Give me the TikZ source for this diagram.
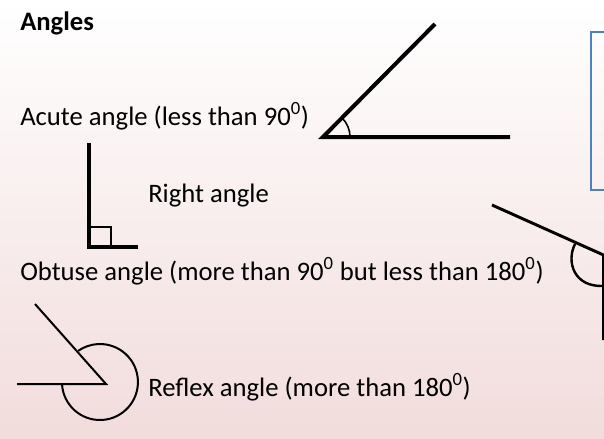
\documentclass[tikz,border=0pt]{standalone}
\usepackage{fontspec}
\setmainfont{Carlito}
\definecolor{pinkbg}{RGB}{242,220,220}
\definecolor{boxblue}{RGB}{79,129,189}
\tikzset{
  lbl/.style={anchor=base west, inner sep=0pt, font=\fontsize{20}{24}\selectfont},
  thickline/.style={line width=3pt, line join=miter},
  thinarc/.style={line width=1.2pt},
}
\begin{document}
\begin{tikzpicture}[x=0.75pt, y=-0.75pt]
\useasboundingbox (0,0) rectangle (604,439);
\shade[top color=white, bottom color=pinkbg] (0,0) rectangle (604,439);
\clip (0,0) rectangle (604,439);
% texts
\node[lbl, font=\fontsize{20}{24}\selectfont\bfseries] (title) at (20,31) {Angles};
\node[lbl] (acute) at (20,125) {Acute angle (less than 90\textsuperscript{0})};
\node[lbl] (right) at (148,202) {Right angle};
\node[lbl] (obtuse) at (20,280) {Obtuse angle (more than 90\textsuperscript{0} but less than 180\textsuperscript{0})};
\node[lbl] (reflex) at (148,396) {Reflex angle (more than 180\textsuperscript{0})};
% blue box
\draw[boxblue, line width=1.5pt] (591,32) rectangle (625,190);
% acute angle
\coordinate (av) at (323,137);
\draw[thickline] (435,24) -- (av) -- (510,137);
\draw[thinarc] (350,137) arc[start angle=0, end angle=-45, radius=27];
% right angle
\draw[line width=3.6pt, line join=miter] (89,143) -- (89,247) -- (138,247);
\draw[line width=0.8pt] (89,227) -- (111,227) -- (111,247);
% obtuse angle
\coordinate (ov) at (603.5,255);
\draw[line width=2.2pt, line join=miter] (492,205) -- (ov) -- (603.5,340);
\draw[line width=1.8pt] (575,244) .. controls (566,262) and (574,287) .. (603,286);
% reflex angle
\coordinate (rv) at (106,384);
\draw[line width=1.5pt] (17,384) -- (rv) -- (35,304);
\draw[line width=1.5pt] (62,384) arc[start angle=177, end angle=-125, radius=38];
\end{tikzpicture}
\end{document}
